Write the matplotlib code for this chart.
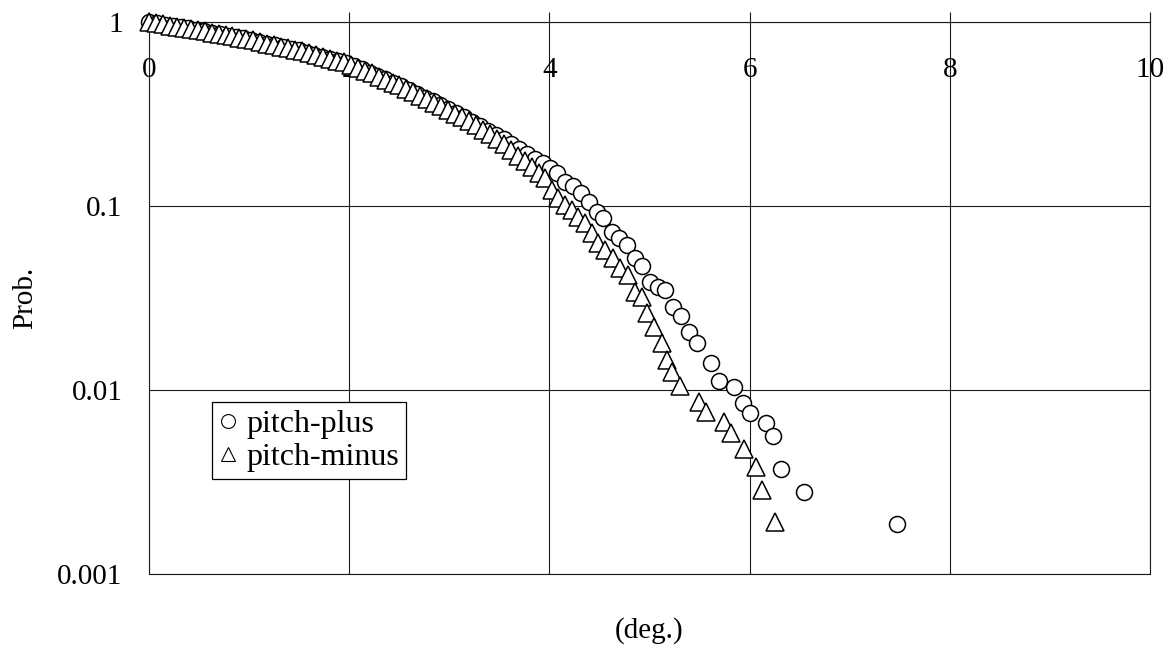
import matplotlib
matplotlib.use("Agg")
import matplotlib.pyplot as plt

plt.rcParams['font.family'] = ['Liberation Serif', 'DejaVu Serif']

# ---- data ----
plus_x = [0.000, 0.079, 0.157, 0.236, 0.315, 0.394, 0.472, 0.551, 0.630, 0.708,
          0.787, 0.866, 0.944, 1.023, 1.102, 1.181, 1.259, 1.338, 1.417, 1.495,
          1.574, 1.653, 1.731, 1.810, 1.889, 1.968, 2.046, 2.125, 2.204, 2.282,
          2.361, 2.440, 2.518, 2.597, 2.676, 2.755, 2.833, 2.912, 2.991, 3.069,
          3.148, 3.227, 3.305, 3.384, 3.463, 3.542, 3.620, 3.699, 3.778, 3.856,
          3.936, 4.010, 4.076, 4.156, 4.236, 4.316, 4.396, 4.476, 4.535, 4.625,
          4.695, 4.775, 4.855, 4.925, 5.005, 5.085, 5.155, 5.235, 5.315, 5.395,
          5.474, 5.614, 5.694, 5.844, 5.934, 6.004, 6.164, 6.234, 6.314, 6.544,
          7.473]
plus_y = [1.000, 0.984, 0.968, 0.953, 0.937, 0.922, 0.908, 0.891, 0.875, 0.859,
          0.843, 0.828, 0.815, 0.798, 0.782, 0.764, 0.748, 0.731, 0.716, 0.701,
          0.682, 0.665, 0.647, 0.631, 0.614, 0.598, 0.577, 0.553, 0.530, 0.508,
          0.488, 0.467, 0.447, 0.427, 0.406, 0.388, 0.370, 0.353, 0.337, 0.319,
          0.303, 0.286, 0.271, 0.257, 0.243, 0.230, 0.216, 0.203, 0.191, 0.179,
          0.171, 0.160, 0.151, 0.135, 0.128, 0.118, 0.105, 0.0928, 0.0860, 0.0722,
          0.0670, 0.0614, 0.0522, 0.0472, 0.0386, 0.0363, 0.0349, 0.0283, 0.0252, 0.0207,
          0.0180, 0.0140, 0.0112, 0.0104, 0.0085, 0.0075, 0.0066, 0.0056, 0.0037, 0.0028,
          0.00187]

minus_x = [0.000, 0.070, 0.139, 0.209, 0.278, 0.348, 0.417, 0.487, 0.556, 0.626,
           0.695, 0.765, 0.834, 0.904, 0.973, 1.043, 1.112, 1.182, 1.251, 1.321,
           1.390, 1.460, 1.529, 1.599, 1.668, 1.738, 1.807, 1.877, 1.946, 2.016,
           2.085, 2.155, 2.224, 2.294, 2.363, 2.433, 2.502, 2.572, 2.641, 2.711,
           2.780, 2.850, 2.919, 2.989, 3.058, 3.128, 3.197, 3.267, 3.336, 3.406,
           3.475, 3.545, 3.614, 3.684, 3.753, 3.823, 3.892,
           3.956, 4.026, 4.086, 4.156, 4.226, 4.286, 4.356, 4.426, 4.486, 4.555,
           4.635, 4.705, 4.785, 4.855, 4.925, 4.975, 5.045, 5.125, 5.175, 5.225,
           5.305, 5.494, 5.564, 5.744, 5.814, 5.944, 6.064, 6.124, 6.254]
minus_y = [1.000, 0.986, 0.972, 0.957, 0.944, 0.931, 0.917, 0.904, 0.890, 0.876,
           0.862, 0.848, 0.835, 0.822, 0.809, 0.794, 0.780, 0.764, 0.750, 0.735,
           0.721, 0.708, 0.693, 0.678, 0.661, 0.646, 0.631, 0.617, 0.603, 0.586,
           0.565, 0.544, 0.525, 0.505, 0.486, 0.469, 0.452, 0.433, 0.414, 0.396,
           0.380, 0.364, 0.348, 0.333, 0.318, 0.303, 0.289, 0.275, 0.259, 0.245,
           0.231, 0.216, 0.202, 0.188, 0.175, 0.163, 0.152,
           0.142, 0.122, 0.110, 0.101, 0.095, 0.087, 0.081, 0.0713, 0.0630, 0.0577,
           0.0521, 0.0460, 0.0422, 0.0341, 0.0320, 0.0262, 0.0220, 0.0180, 0.0146, 0.0125,
           0.0105, 0.0086, 0.0076, 0.0067, 0.00583, 0.00478, 0.00382, 0.00286, 0.00192]

x_ticks = [0, 2, 4, 6, 8, 10]
x_tick_labels = ['0', '2', '4', '6', '8', '10']
y_ticks = [0.001, 0.01, 0.1, 1]
y_tick_labels = ['0.001', '0.01', '0.1', '1']
series_names = ['pitch-plus', 'pitch-minus']
x_title = '(deg.)'
y_title = 'Prob.'

# ---- figure ----
fig = plt.figure(figsize=(11.75, 6.51), dpi=100)
ax = fig.add_axes([149/1175, 1 - 574/651, 1001/1175, 552/651])

ax.set_yscale('log')
ax.set_xlim(0, 10)
ax.set_ylim(0.001, 1)

line_col = '#1a1a1a'
ax.plot(plus_x, plus_y, linestyle='none', marker='o', markersize=11.5,
        markerfacecolor='white', markeredgecolor='black', markeredgewidth=1.1,
        clip_on=False, zorder=3, label=series_names[0])
ax.plot(minus_x, minus_y, linestyle='none', marker='^', markersize=12.3,
        markerfacecolor='white', markeredgecolor='black', markeredgewidth=1.1,
        clip_on=False, zorder=4, label=series_names[1])

ax.set_xticks(x_ticks)
ax.set_xticklabels(x_tick_labels)
ax.set_yticks(y_ticks)
ax.set_yticklabels(y_tick_labels)
ax.yaxis.set_minor_locator(matplotlib.ticker.NullLocator())

ax.xaxis.set_ticks_position('top')
ax.tick_params(axis='x', which='major', direction='out', length=7.2, width=0.8,
               color=line_col, top=True, bottom=False, labeltop=True,
               labelbottom=False, pad=-51, labelsize=21)
ax.tick_params(axis='y', which='major', length=0, pad=19, labelsize=21)

ax.grid(True, which='major', color=line_col, linewidth=0.8)
for s in ax.spines.values():
    s.set_color(line_col)
    s.set_linewidth(0.8)

ax.set_xlabel(x_title, fontsize=21, labelpad=31)
ax.xaxis.set_label_position('bottom')
ax.set_ylabel(y_title, fontsize=21, labelpad=14)

leg = ax.legend(loc='lower left', bbox_to_anchor=(0.063, 0.172), borderaxespad=0,
                fontsize=23, frameon=True, fancybox=False, framealpha=1,
                edgecolor='black', numpoints=1, handlelength=0.55,
                handletextpad=0.3, borderpad=0.22, labelspacing=0.12)
leg.get_frame().set_linewidth(0.9)
for h in leg.legend_handles:
    h.set_markeredgewidth(0.8)
    h.set_markersize(10)

fig.savefig('out.png', dpi=100)
